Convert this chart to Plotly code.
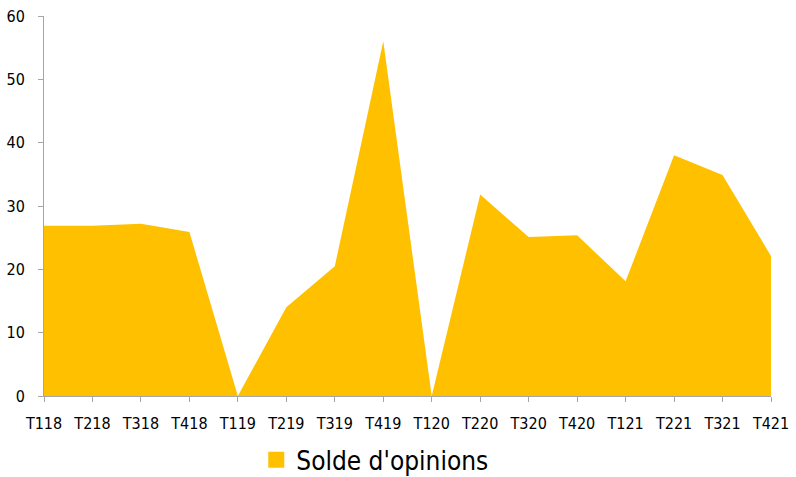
import plotly.graph_objects as go

categories = ["T118", "T218", "T318", "T418", "T119", "T219", "T319", "T419",
              "T120", "T220", "T320", "T420", "T121", "T221", "T321", "T421"]
solde = [26.9, 26.9, 27.2, 25.9, 0.0, 14.0, 20.5, 56.0,
         0.0, 31.8, 25.1, 25.4, 18.1, 38.0, 34.9, 22.1]
series_name = "Solde d'opinions"
y_ticks = [0, 10, 20, 30, 40, 50, 60]

FILL = "#FFC000"
FONT = "DejaVu Sans Condensed, Arial, sans-serif"

fig = go.Figure()
fig.add_trace(go.Scatter(
    x=categories, y=solde, mode="lines", fill="tozeroy",
    fillcolor=FILL, line=dict(width=0, color=FILL),
    name=series_name, showlegend=False, hoverinfo="x+y",
))
fig.add_trace(go.Scatter(
    x=[None], y=[None], mode="markers",
    marker=dict(symbol="square", size=17, color=FILL),
    name=series_name, showlegend=True,
))

fig.update_layout(
    width=796, height=477,
    margin=dict(l=44, r=25, t=16, b=81, autoexpand=False),
    plot_bgcolor="white", paper_bgcolor="white",
    font=dict(family=FONT, color="#000000", size=16),
    legend=dict(orientation="h", x=0.455, xanchor="center", y=-0.168, yanchor="middle",
                font=dict(size=26, family=FONT), itemwidth=30,
                bgcolor="rgba(0,0,0,0)"),
)
fig.update_xaxes(
    type="category", range=[0, len(categories) - 1], automargin=False,
    showline=True, linecolor="#A6A6A6", linewidth=1,
    ticks="outside", ticklen=5, tickcolor="#A6A6A6",
    showgrid=False, zeroline=False, tickfont=dict(size=16),
    ticklabelstandoff=8,
)
fig.update_yaxes(
    range=[0, 60], tickvals=y_ticks, automargin=False,
    showline=True, linecolor="#A6A6A6", linewidth=1,
    ticks="outside", ticklen=5, tickcolor="#A6A6A6",
    showgrid=False, zeroline=False, tickfont=dict(size=16),
    ticklabelstandoff=10,
)

fig.write_html(
    "out.html",
    config={"displayModeBar": False},
    post_script="document.body.style.margin='0';document.body.style.padding='0';document.body.style.overflow='hidden';",
)
